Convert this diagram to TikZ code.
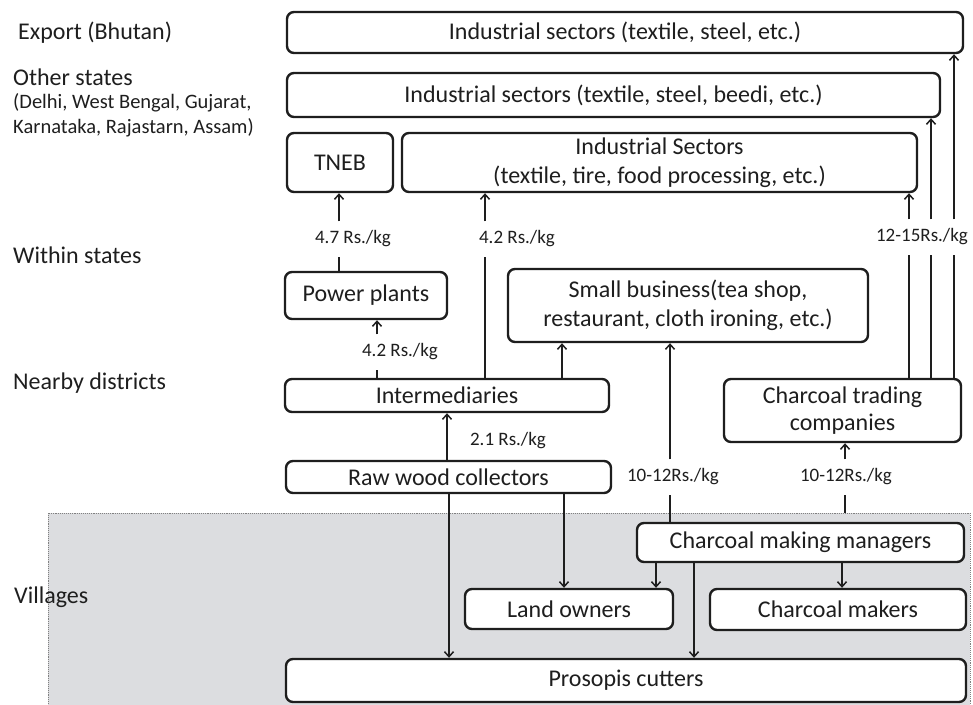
\documentclass[tikz,border=0pt]{standalone}
\usepackage{fontspec}
\setmainfont{Carlito}
\usetikzlibrary{arrows.meta}
\definecolor{ink}{HTML}{1E1E1E}
\definecolor{shade}{HTML}{DCDDE0}
\tikzset{
  box/.style={draw=ink, line width=2.4pt, rounded corners=7pt, fill=white, inner sep=0pt, align=center,
    font=\fontsize{24}{29}\selectfont, text=ink},
  rate/.style={inner sep=0pt, minimum height=35pt, font=\fontsize{19}{22}\selectfont, text=ink},
  lab/.style={anchor=west, inner sep=0pt, font=\fontsize{24}{28}\selectfont, text=ink},
  sublab/.style={anchor=west, inner sep=0pt, font=\fontsize{20.5}{24}\selectfont, text=ink},
  conn/.style={draw=ink, line width=1.5pt},
  arr/.style={conn, -{Straight Barb[length=5pt,width=9pt,line width=1.5pt]}},
}
\begin{document}
\begin{tikzpicture}[x=1pt,y=-1pt]
\useasboundingbox (0,0) rectangle (973,704);
% village area
\draw[fill=shade, draw=gray, densely dotted, line width=0.9pt] (48,513) rectangle (970,710);
\coordinate (st) at (845,513);

% left labels
\node[lab] (lexp) at (18,33) {Export (Bhutan)};
\node[lab] (loth) at (13,77) {Other states};
\node[sublab] (lst1) at (13,103) {(Delhi, West Bengal, Gujarat,};
\node[sublab] (lst2) at (13,128) {Karnataka, Rajastarn, Assam)};
\node[lab] (lwit) at (13,255) {Within states};
\node[lab] (lnear) at (13,383) {Nearby districts};
\node[lab] (lvil) at (14,597) {Villages};

% boxes
\node[box, minimum width=676pt, minimum height=41pt] (exp) at (625,32.5) {Industrial sectors (textile, steel, etc.)};
\node[box, minimum width=653pt, minimum height=44pt] (oth) at (613.5,95) {Industrial sectors (textile, steel, beedi, etc.)};
\node[box, minimum width=106pt, minimum height=59pt] (tneb) at (340,162.5) {TNEB};
\node[box, minimum width=515pt, minimum height=59pt] (ind) at (659.5,162.5) {Industrial Sectors\\(textile, tire, food processing, etc.)};
\node[box, minimum width=162pt, minimum height=47pt] (pp) at (366,295.5) {Power plants};
\node[box, minimum width=360pt, minimum height=73pt] (sb) at (688,305.5) {Small business(tea shop,\\restaurant, cloth ironing, etc.)};
\node[box, minimum width=324pt, minimum height=33pt] (inter) at (447,395.5) {Intermediaries};
\node[box, minimum width=237pt, minimum height=63pt, font=\fontsize{24}{27}\selectfont] (ctc) at (842.5,410.5) {Charcoal trading\\companies};
\node[box, minimum width=325pt, minimum height=32pt] (rwc) at (448.5,477) {Raw wood collectors};
\node[box, minimum width=327pt, minimum height=39pt] (cmm) at (800.5,542.5) {Charcoal making managers};
\node[box, minimum width=208pt, minimum height=40pt] (lo) at (569,609) {Land owners};
\node[box, minimum width=256pt, minimum height=41pt] (cm) at (838,609.5) {Charcoal makers};
\node[box, minimum width=680pt, minimum height=43pt] (pc) at (626,680.5) {Prosopis cutters};

% rate labels
\node[rate] (r47) at (353,239) {4.7 Rs./kg};
\node[rate] (r42a) at (517,239) {4.2 Rs./kg};
\node[rate] (r1215) at (922,237) {12-15Rs./kg};
\node[rate] (r42b) at (400,352) {4.2 Rs./kg};
\node[rate] (r21) at (508,441) {2.1 Rs./kg};
\node[rate] (r1012a) at (673,477) {10-12Rs./kg};
\node[rate] (r1012b) at (846,477) {10-12Rs./kg};

% connectors
\draw[conn] (339,0 |- pp.north) -- (339,0 |- r47.south);
\draw[arr] (339,0 |- r47.north) -- (339,0 |- tneb.south);
\draw[conn] (485,0 |- inter.north) -- (485,0 |- r42a.south);
\draw[arr] (485,0 |- r42a.north) -- (485,0 |- ind.south);
\draw[conn] (377,0 |- inter.north) -- (377,0 |- r42b.south);
\draw[arr] (377,0 |- r42b.north) -- (377,0 |- pp.south);
\draw[arr] (562,0 |- inter.north) -- (562,0 |- sb.south);
\draw[arr] (447,0 |- rwc.north) -- (447,0 |- inter.south);
\draw[conn] (670,0 |- cmm.north) -- (670,0 |- r1012a.south);
\draw[arr] (670,0 |- r1012a.north) -- (670,0 |- sb.south);
\draw[conn] (st) -- (845,0 |- r1012b.south);
\draw[arr] (845,0 |- r1012b.north) -- (845,0 |- ctc.south);
\draw[conn] (909,0 |- ctc.north) -- (909,0 |- r1215.south);
\draw[arr] (909,0 |- r1215.north) -- (909,0 |- ind.south);
\draw[conn] (931,0 |- ctc.north) -- (931,0 |- r1215.south);
\draw[arr] (931,0 |- r1215.north) -- (931,0 |- oth.south);
\draw[conn] (954,0 |- ctc.north) -- (954,0 |- r1215.south);
\draw[arr] (954,0 |- r1215.north) -- (954,0 |- exp.south);
\draw[arr] (449,0 |- rwc.south) -- (449,0 |- pc.north);
\draw[arr] (564,0 |- rwc.south) -- (564,0 |- lo.north);
\draw[arr] (656,0 |- cmm.south) -- (656,0 |- lo.north);
\draw[arr] (694,0 |- cmm.south) -- (694,0 |- pc.north);
\draw[arr] (842,0 |- cmm.south) -- (842,0 |- cm.north);
\end{tikzpicture}
\end{document}
